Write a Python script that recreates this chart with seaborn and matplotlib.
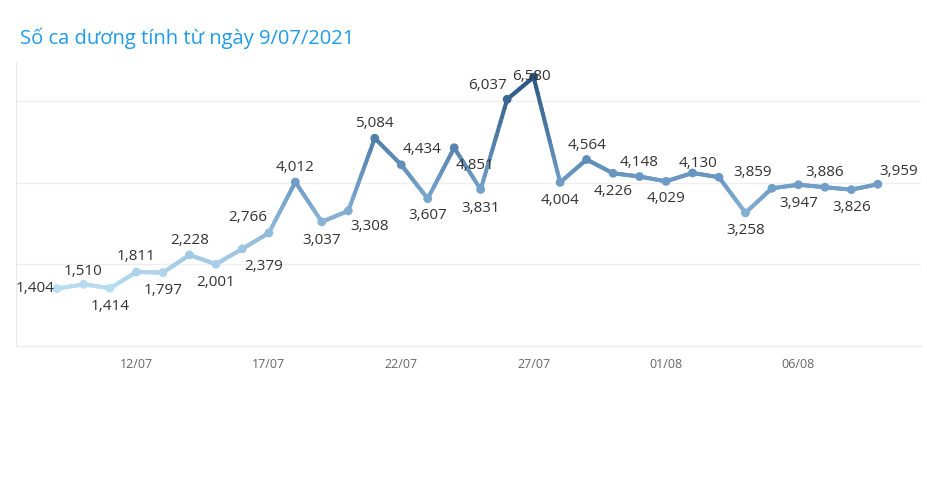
import numpy as np
import pandas as pd
import matplotlib
matplotlib.use("Agg")
import matplotlib.pyplot as plt
import seaborn as sns
from matplotlib.collections import LineCollection
from matplotlib.colors import LinearSegmentedColormap, Normalize

# Daily positive cases from 9/07/2021 to 9/08/2021
dates = pd.date_range("2021-07-09", "2021-08-09", freq="D")
cases = [1404, 1510, 1414, 1811, 1797, 2228, 2001, 2379, 2766, 4012,
         3037, 3308, 5084, 4434, 3607, 4851, 3831, 6037, 6580, 4004,
         4564, 4226, 4148, 4029, 4235, 4130, 3258, 3859, 3947, 3886,
         3826, 3959]
# which values get a printed label (02/08 is hidden in the original)
show_label = [True] * len(cases)
show_label[24] = False

# label offsets in pixels (dx, dy), positive dy = up
label_offsets = [(-22, 0), (0, 13), (0, -18), (0, 15), (0, -18), (0, 14), (0, -18),
                 (21, -18), (-21, 15), (0, 15), (0, -19), (21, -16), (0, 15),
                 (21, 15), (0, -17), (21, -18), (0, -19), (-20, 14), (-2, 1),
                 (0, -18), (0, 14), (0, -18), (0, 14), (0, -17), (0, 0), (-21, 14),
                 (0, -18), (-19, 16), (0, -19), (0, 15), (0, -18), (21, 13)]

title = "Số ca dương tính từ ngày 9/07/2021"

df = pd.DataFrame({"day": np.arange(len(cases)), "cases": cases})

cmap = LinearSegmentedColormap.from_list("tab_blue", ["#b9ddf1", "#6e9cc6", "#2a5783"])
norm = Normalize(vmin=min(cases), vmax=max(cases))

sns.set_style("white")
plt.rcParams["font.family"] = ["Open Sans", "DejaVu Sans"]

fig = plt.figure(figsize=(9.27, 4.92), dpi=100)
ax = fig.add_axes([16 / 927, 1 - 346 / 492, (921 - 16) / 927, (346 - 62) / 492])

# gradient line: each segment split into small pieces coloured by value
segs, vals = [], []
x = df["day"].to_numpy(dtype=float)
y = df["cases"].to_numpy(dtype=float)
for i in range(len(x) - 1):
    t = np.linspace(0, 1, 21)
    xs = x[i] + (x[i + 1] - x[i]) * t
    ys = y[i] + (y[i + 1] - y[i]) * t
    for k in range(20):
        segs.append([(xs[k], ys[k]), (xs[k + 1], ys[k + 1])])
        vals.append((ys[k] + ys[k + 1]) / 2)
lc = LineCollection(segs, colors=cmap(norm(vals)), linewidths=2.9, capstyle="round", zorder=3)
ax.add_collection(lc)

sns.scatterplot(data=df, x="day", y="cases", hue="cases", palette=cmap, hue_norm=norm,
                s=40, edgecolor="none", legend=False, zorder=4, ax=ax)

for i, v in enumerate(cases):
    if not show_label[i]:
        continue
    dx, dy = label_offsets[i]
    ax.annotate(f"{v:,}", (i, v), xytext=(dx, dy), textcoords="offset pixels",
                ha="center", va="center", fontsize=11, color="#333333", zorder=5)

ax.set_xlim(-1.55, 32.63)
ax.set_ylim(0, 6950)
ax.set_yticks([2000, 4000, 6000])
ax.set_yticklabels([])
ax.tick_params(axis="y", length=0)
ax.yaxis.grid(True, color="#eeeeee", linewidth=1)
ax.xaxis.grid(False)

ax.set_xticks(df["day"][3::5])
ax.set_xticklabels([d.strftime("%d/%m") for d in dates[3::5]], fontsize=9, color="#666666")
ax.set_xticks(df["day"], minor=True)
ax.tick_params(axis="x", which="major", length=4, color="#e6e6e6", pad=5)
ax.tick_params(axis="x", which="minor", length=2, color="#eeeeee")
ax.set_xlabel("")
ax.set_ylabel("")

for side in ["top", "right"]:
    ax.spines[side].set_visible(False)
ax.spines["left"].set_color("#e8e8e8")
ax.spines["bottom"].set_color("#e8e8e8")
ax.spines["bottom"].set_linestyle((0, (2, 1)))

fig.text(20 / 927, 1 - 38 / 492, title, fontsize=14.5, color="#1f9bea", va="center", ha="left")

fig.savefig("out.png", dpi=100)
